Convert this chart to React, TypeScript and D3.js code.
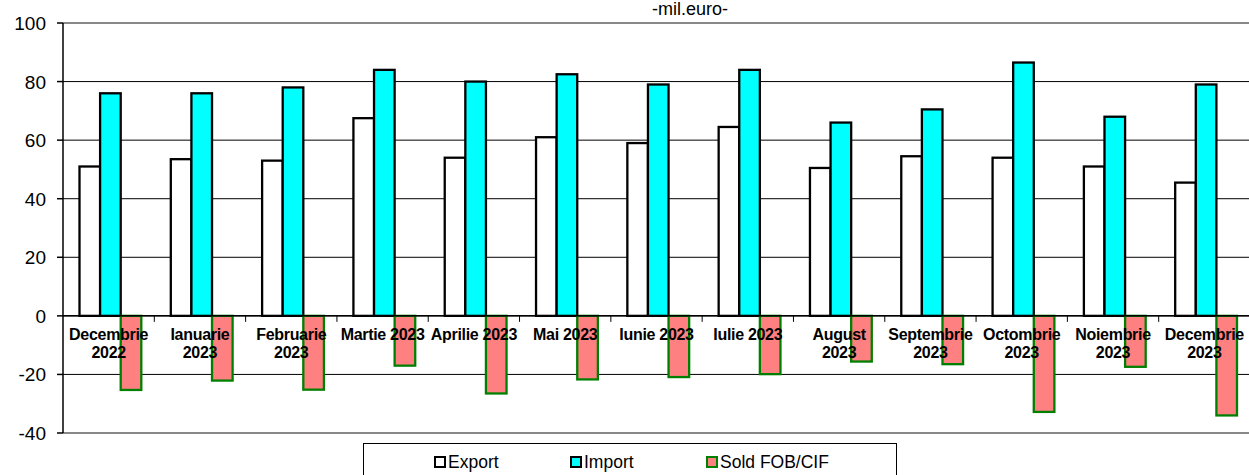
import React from 'react'
import * as d3 from 'd3'

const categories = [
    'Decembrie\n2022',
    'Ianuarie\n2023',
    'Februarie\n2023',
    'Martie 2023',
    'Aprilie 2023',
    'Mai 2023',
    'Iunie 2023',
    'Iulie 2023',
    'August\n2023',
    'Septembrie\n2023',
    'Octombrie\n2023',
    'Noiembrie\n2023',
    'Decembrie\n2023'
]
const exportValues = [51, 53.5, 53, 67.5, 54, 61, 59, 64.5, 50.5, 54.5, 54, 51, 45.5]
const importValues = [76, 76, 78, 84, 80, 82.5, 79, 84, 66, 70.5, 86.5, 68, 79]
const soldValues = [-25.3, -22.1, -25.2, -17, -26.5, -21.7, -20.9, -19.9, -15.6, -16.5, -32.8, -17.4, -34]
const yTicks = [100, 80, 60, 40, 20, 0, -20, -40]

const seriesNames = ['Export', 'Import', 'Sold FOB/CIF']
const fills = ['#FFFFFF', '#00FFFF', '#FF8080']
const strokes = ['#000000', '#000000', '#008000']

const W = 1249
const H = 475
const left = 63
const right = 1250
const top = 23
const bottom = 433
const font = 'Arial, "Liberation Sans", sans-serif'

const App: React.FC = () => {
    const x = d3.scaleBand<string>().domain(categories).range([left, right]).padding(0)
    const step = x.step()
    const inner = d3
        .scaleBand<string>()
        .domain(seriesNames)
        .range([16.5, step - 13])
        .padding(0)
    const y = d3.scaleLinear().domain([-40, 100]).range([bottom, top])
    const series = [exportValues, importValues, soldValues]

    return (
        <div style={{ position: 'absolute', left: 0, top: 0 }}>
            <svg width={W} height={H} style={{ display: 'block' }}>
                <rect x={0} y={0} width={W} height={H} fill='#fff' />
                <text x={690} y={15} textAnchor='middle' fontFamily={font} fontSize={18}>
                    -mil.euro-
                </text>
                {/* gridlines */}
                {yTicks
                    .filter((t) => t !== 100 && t !== -40)
                    .map((t) => (
                        <line key={t} x1={left} x2={right} y1={y(t)} y2={y(t)} stroke='#000' strokeWidth={1} />
                    ))}
                <line x1={left} x2={right} y1={y(100)} y2={y(100)} stroke='#888' strokeWidth={2} />
                <line x1={left} x2={right} y1={y(-40)} y2={y(-40)} stroke='#888' strokeWidth={2} />
                {/* bars */}
                {series.map((vals, si) =>
                    vals.map((v, i) => {
                        const bx = (x(categories[i]) ?? 0) + (inner(seriesNames[si]) ?? 0)
                        return (
                            <rect
                                key={`${si}-${i}`}
                                x={bx}
                                y={y(Math.max(0, v))}
                                width={inner.bandwidth()}
                                height={Math.abs(y(v) - y(0))}
                                fill={fills[si]}
                                stroke={strokes[si]}
                                strokeWidth={2.3}
                            />
                        )
                    })
                )}
                {/* y axis */}
                <line x1={left} x2={left} y1={top} y2={bottom} stroke='#000' strokeWidth={1.5} />
                {yTicks.map((t) => (
                    <g key={t}>
                        <line x1={left - 6} x2={left} y1={y(t)} y2={y(t)} stroke='#000' strokeWidth={1.5} />
                        <text
                            x={46}
                            y={y(t) + 7}
                            textAnchor='end'
                            fontFamily={font}
                            fontSize={19}
                        >
                            {t}
                        </text>
                    </g>
                ))}
                {/* category axis at zero */}
                <line x1={left} x2={right} y1={y(0)} y2={y(0)} stroke='#000' strokeWidth={1.5} />
                {categories.map((c, i) => (
                    <line
                        key={`t${i}`}
                        x1={(x(c) ?? 0) + step}
                        x2={(x(c) ?? 0) + step}
                        y1={y(0)}
                        y2={y(0) + 6}
                        stroke='#000'
                        strokeWidth={1}
                    />
                ))}
                {categories.map((c, i) => (
                    <text
                        key={`l${i}`}
                        x={(x(c) ?? 0) + step / 2}
                        y={y(0) + 24}
                        textAnchor='middle'
                        fontFamily={font}
                        fontWeight='bold'
                        fontSize={16}
                        letterSpacing={-0.3}
                    >
                        {c.split('\n').map((line, li) => (
                            <tspan key={li} x={(x(c) ?? 0) + step / 2} dy={li === 0 ? 0 : 18}>
                                {line}
                            </tspan>
                        ))}
                    </text>
                ))}
                {/* legend */}
                <rect x={363.5} y={443.5} width={533} height={40} fill='#fff' stroke='#000' strokeWidth={1} />
                {seriesNames.map((n, i) => {
                    const lx = [435, 571, 707][i]
                    return (
                        <g key={n}>
                            <rect
                                x={lx}
                                y={457}
                                width={10}
                                height={10}
                                fill={fills[i]}
                                stroke={strokes[i]}
                                strokeWidth={2}
                            />
                            <text x={lx + 13} y={468} fontFamily={font} fontSize={17.5}>
                                {n}
                            </text>
                        </g>
                    )
                })}
            </svg>
        </div>
    )
}

export default App
